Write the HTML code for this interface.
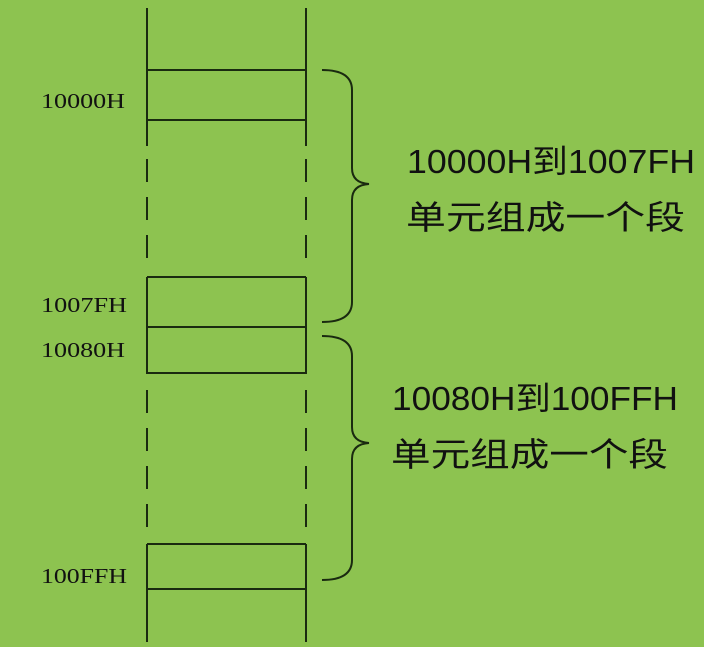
<!DOCTYPE html>
<html><head><meta charset="utf-8"><style>
html,body{margin:0;padding:0;background:#8dc350;}
</style></head><body>
<svg width="704" height="642" viewBox="0 0 704 642" xmlns="http://www.w3.org/2000/svg">
<rect width="704" height="642" fill="#8dc350"/>
<g stroke="#1a2a10" stroke-width="2" fill="none">
<line x1="147" y1="8" x2="147" y2="146"/><line x1="306" y1="8" x2="306" y2="146"/>
<line x1="147" y1="70" x2="306" y2="70"/><line x1="147" y1="120" x2="306" y2="120"/>
<g stroke-dasharray="23 15">
<line x1="147" y1="159" x2="147" y2="270"/><line x1="306" y1="159" x2="306" y2="270"/>
<line x1="147" y1="390" x2="147" y2="531"/><line x1="306" y1="390" x2="306" y2="531"/>
</g>
<line x1="147" y1="277" x2="147" y2="374"/><line x1="306" y1="277" x2="306" y2="374"/>
<line x1="147" y1="277" x2="306" y2="277"/><line x1="147" y1="327" x2="306" y2="327"/><line x1="147" y1="373" x2="306" y2="373"/>
<line x1="147" y1="544" x2="147" y2="642"/><line x1="306" y1="544" x2="306" y2="642"/>
<line x1="147" y1="544" x2="306" y2="544"/><line x1="147" y1="589" x2="306" y2="589"/>
<path d="M322 70 Q352 70 352 90 L352 168 Q352 183 369 184 Q352 185 352 200 L352 302 Q352 322 322 322"/>
<path d="M322 336 Q352 336 352 356 L352 427 Q352 442 369 443 Q352 444 352 459 L352 560 Q352 580 322 580"/>
</g>
<g font-family="Liberation Serif, serif" font-size="21" fill="#111">
<text x="41" y="108" textLength="84" lengthAdjust="spacingAndGlyphs">10000H</text>
<text x="41" y="312" textLength="86" lengthAdjust="spacingAndGlyphs">1007FH</text>
<text x="41" y="357" textLength="84" lengthAdjust="spacingAndGlyphs">10080H</text>
<text x="41" y="583" textLength="86" lengthAdjust="spacingAndGlyphs">100FFH</text>
</g>
<g font-family="Liberation Sans, 'Noto Sans CJK SC', sans-serif" font-size="33" fill="#111">
<text x="407" y="173" textLength="288" lengthAdjust="spacingAndGlyphs">10000H到1007FH</text>
<text x="406" y="229" textLength="279" lengthAdjust="spacingAndGlyphs">单元组成一个段</text>
<text x="392" y="410" textLength="286" lengthAdjust="spacingAndGlyphs">10080H到100FFH</text>
<text x="391" y="466" textLength="277" lengthAdjust="spacingAndGlyphs">单元组成一个段</text>
</g>
</svg>
</body></html>
